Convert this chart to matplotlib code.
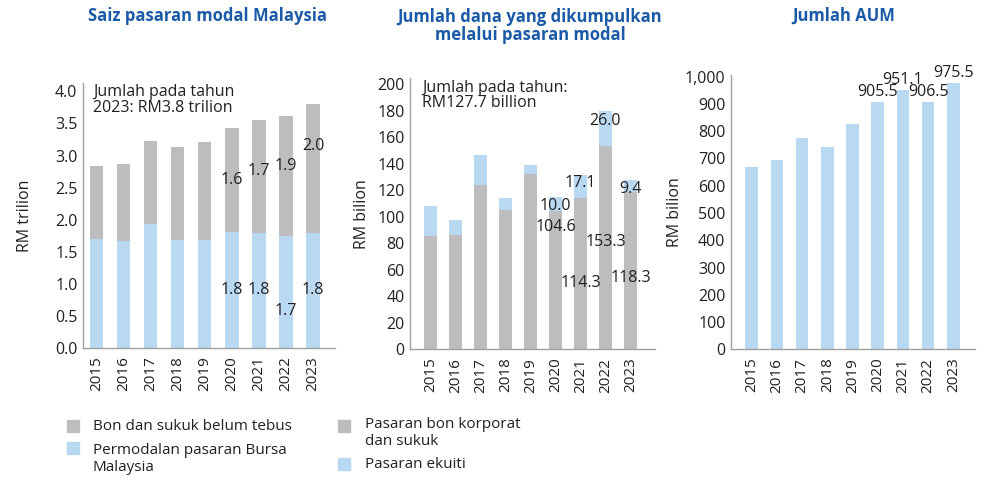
import matplotlib
matplotlib.use('Agg')
import matplotlib.pyplot as plt
from matplotlib.patches import Rectangle

plt.rcParams['font.family'] = ['Open Sans', 'DejaVu Sans']

years = ['2015', '2016', '2017', '2018', '2019', '2020', '2021', '2022', '2023']

# Chart 1: Saiz pasaran modal (RM trilion)
equity_cap = [1.70, 1.66, 1.93, 1.68, 1.68, 1.81, 1.80, 1.74, 1.80]
bonds_out = [1.13, 1.20, 1.30, 1.45, 1.53, 1.62, 1.75, 1.88, 2.00]
equity_lbl = [None, None, None, None, None, '1.8', '1.8', '1.7', '1.8']
bonds_lbl = [None, None, None, None, None, '1.6', '1.7', '1.9', '2.0']

# Chart 2: Jumlah dana dikumpulkan (RM bilion)
bond_raised = [85.7, 86.4, 123.9, 104.8, 132.4, 104.6, 114.3, 153.3, 118.3]
equity_raised = [22.3, 11.3, 22.6, 9.3, 6.8, 10.0, 17.1, 26.0, 9.4]
bond_lbl = [None, None, None, None, None, '104.6', '114.3', '153.3', '118.3']
eq_lbl = [None, None, None, None, None, '10.0', '17.1', '26.0', '9.4']

# Chart 3: Jumlah AUM (RM bilion)
aum = [667, 694, 776, 741, 825, 905.5, 951.1, 906.5, 975.5]
aum_lbl = [None, None, None, None, None, '905.5', '951.1', '906.5', '975.5']

GRAY = '#bdbdc0'
BLUE = '#b9d9f2'
TITLE = '#1a5aa6'
TXT = '#231f20'
W, H = 1000, 486

fig = plt.figure(figsize=(W / 100, H / 100), dpi=100)


def box(l, r, b, t):
    return [l / W, 1 - b / H, (r - l) / W, (b - t) / H]


def style(ax):
    for s in ['top', 'right']:
        ax.spines[s].set_visible(False)
    for s in ['left', 'bottom']:
        ax.spines[s].set_color('#a0a0a0')
        ax.spines[s].set_linewidth(1)
    ax.tick_params(length=0, labelsize=11.5, colors=TXT, pad=4)
    ax.tick_params(axis='x', rotation=90, pad=6, labelsize=11)


x = list(range(len(years)))
bw = 0.5

# ---- chart 1
ax1 = fig.add_axes(box(83, 335, 348, 83))
ax1.bar(x, equity_cap, width=bw, color=BLUE)
ax1.bar(x, bonds_out, width=bw, bottom=equity_cap, color=GRAY)
ax1.set_xlim(-0.49, 8.81)
ax1.set_ylim(0, 4.13)
ax1.set_yticks([i * 0.5 for i in range(9)])
ax1.set_yticklabels([f'{i * 0.5:.1f}' for i in range(9)])
ax1.set_xticks(x)
ax1.set_xticklabels(years)
style(ax1)
ax1.set_ylabel('RM trilion', fontsize=11.5, color=TXT, labelpad=16)
ax1.text(0.04, 0.995, 'Jumlah pada tahun\n2023: RM3.8 trilion', transform=ax1.transAxes,
         va='top', ha='left', fontsize=11.5, color=TXT, linespacing=0.95)
eq_off = [0, 0, 0, 0, 0, 0, 0, -0.3, 0]
bd_off = [0, 0, 0, 0, 0, 0, 0.08, 0.15, 0.35]
for i in x:
    if equity_lbl[i]:
        ax1.text(i, equity_cap[i] / 2 + eq_off[i], equity_lbl[i], ha='center', va='center',
                 fontsize=11.5, color=TXT)
    if bonds_lbl[i]:
        ax1.text(i, equity_cap[i] + bonds_out[i] / 2 + bd_off[i], bonds_lbl[i], ha='center',
                 va='center', fontsize=11.5, color=TXT)

# ---- chart 2
ax2 = fig.add_axes(box(410, 655, 349.3, 78.3))
ax2.bar(x, bond_raised, width=bw, color=GRAY)
ax2.bar(x, equity_raised, width=bw, bottom=bond_raised, color=BLUE)
ax2.set_xlim(-0.82, 8.98)
ax2.set_ylim(0, 204.3)
ax2.set_yticks(range(0, 201, 20))
ax2.set_xticks(x)
ax2.set_xticklabels(years)
style(ax2)
ax2.set_ylabel('RM bilion', fontsize=11.5, color=TXT, labelpad=5)
ax2.text(0.05, 0.995, 'Jumlah pada tahun:\nRM127.7 billion', transform=ax2.transAxes,
         va='top', ha='left', fontsize=11.5, color=TXT, linespacing=0.95)
bl_pos = [None, None, None, None, None, 92.5, 50, 81, 53.5]
el_pos = [None, None, None, None, None, 108, 125.6, 172, 121]
for i in x:
    if bond_lbl[i]:
        ax2.text(i, bl_pos[i], bond_lbl[i], ha='center', va='center', fontsize=11.5, color=TXT)
    if eq_lbl[i]:
        ax2.text(i, el_pos[i], eq_lbl[i], ha='center', va='center', fontsize=11.5, color=TXT)

# ---- chart 3
ax3 = fig.add_axes(box(731, 975, 349.3, 75))
ax3.bar(x, aum, width=bw, color=BLUE)
ax3.set_xlim(-0.82, 8.86)
ax3.set_ylim(0, 1006)
ax3.set_yticks(range(0, 1001, 100))
ax3.set_yticklabels([f'{v:,}' for v in range(0, 1001, 100)])
ax3.set_xticks(x)
ax3.set_xticklabels(years)
style(ax3)
ax3.set_ylabel('RM bilion', fontsize=11.5, color=TXT, labelpad=1)
for i in x:
    if aum_lbl[i]:
        ax3.text(i, aum[i] + 8, aum_lbl[i], ha='center', va='bottom', fontsize=11.5, color=TXT)

# ---- titles
fig.text(208 / W, 1 - 16 / H, 'Saiz pasaran modal Malaysia', ha='center', va='center',
         fontsize=12, fontweight='bold', color=TITLE)
fig.text(530 / W, 1 - 26 / H, 'Jumlah dana yang dikumpulkan\nmelalui pasaran modal', ha='center',
         va='center', fontsize=12, fontweight='bold', color=TITLE, linespacing=1.0)
fig.text(844 / W, 1 - 16 / H, 'Jumlah AUM', ha='center', va='center',
         fontsize=12, fontweight='bold', color=TITLE)


# ---- legends
def swatch(px, py, color):
    fig.patches.append(Rectangle((px / W, 1 - (py + 12) / H), 12 / W, 12 / H, color=color,
                                 transform=fig.transFigure, figure=fig))


swatch(67, 420, GRAY)
fig.text(93 / W, 1 - 426 / H, 'Bon dan sukuk belum tebus', va='center', fontsize=11, color=TXT)
swatch(67, 442, BLUE)
fig.text(93 / W, 1 - 459 / H, 'Permodalan pasaran Bursa\nMalaysia', va='center', fontsize=11,
         color=TXT, linespacing=1.1)
swatch(338, 420, GRAY)
fig.text(365 / W, 1 - 433 / H, 'Pasaran bon korporat\ndan sukuk', va='center', fontsize=11,
         color=TXT, linespacing=1.1)
swatch(338, 458, BLUE)
fig.text(365 / W, 1 - 464 / H, 'Pasaran ekuiti', va='center', fontsize=11, color=TXT)

fig.savefig('out.png', dpi=100)
